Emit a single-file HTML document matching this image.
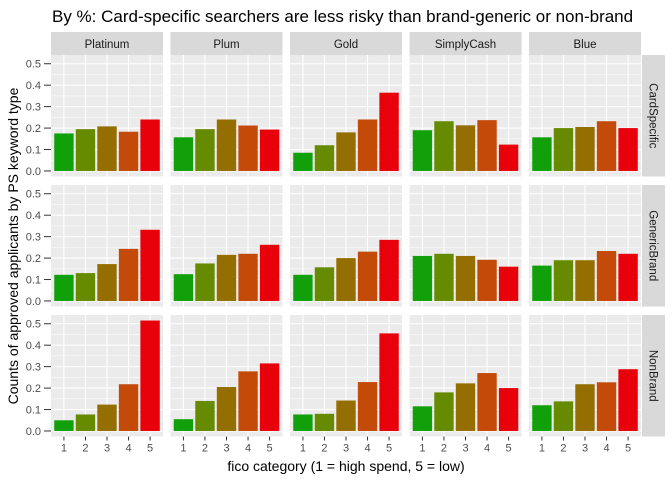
<!DOCTYPE html>
<html><head><meta charset="utf-8"><style>body{margin:0;background:#fff}svg{display:block;font-family:"Liberation Sans",sans-serif}</style></head>
<body>
<svg id="c" width="672" height="480"></svg>
<script>
const cards=["Platinum","Plum","Gold","SimplyCash","Blue"];
const types=["CardSpecific","GenericBrand","NonBrand"];
const ficoCats=["1","2","3","4","5"];
const yTicks=[0,0.1,0.2,0.3,0.4,0.5];
const cardSpecificVals=[[.175,.195,.208,.183,.24],[.157,.195,.24,.212,.193],[.085,.12,.18,.24,.365],[.19,.232,.213,.237,.123],[.157,.2,.205,.232,.2]];
const genericBrandVals=[[.122,.13,.172,.243,.332],[.125,.175,.215,.22,.262],[.122,.157,.2,.23,.285],[.21,.22,.21,.192,.16],[.165,.19,.19,.233,.22]];
const nonBrandVals=[[.05,.077,.123,.218,.515],[.055,.14,.205,.278,.315],[.077,.08,.142,.228,.455],[.115,.18,.222,.27,.2],[.12,.138,.218,.227,.288]];
const allVals=[cardSpecificVals,genericBrandVals,nonBrandVals];
const colors=["#12a00a","#668a00","#946e00","#c44a0a","#e8000a"];
const svg=document.getElementById('c');const NS="http://www.w3.org/2000/svg";
function mk(t,a,p){const e=document.createElementNS(NS,t);for(const k in a)e.setAttribute(k,a[k]);(p||svg).appendChild(e);return e;}
const PX0=51,PW=112,PSTEP=119.5,PY0=55,PH=121.5,PSTEP_Y=130;
const ymin=-0.02575,ymax=0.54075;
function yS(v,r){const top=PY0+r*PSTEP_Y;return top+PH-(v-ymin)/(ymax-ymin)*PH;}
function xC(i,c){const l=PX0+c*PSTEP;return l+(i+0.6)/5.2*PW;}
const uw=PW/5.2;
let t=mk('text',{x:52,y:22,'font-size':17,fill:'#000'});t.textContent="By %: Card-specific searchers are less risky than brand-generic or non-brand";

for(let c=0;c<5;c++){
  const l=PX0+c*PSTEP;
  const s=mk('rect',{x:l,y:32,width:PW,height:23,fill:'#d9d9d9'});
  
  const st=mk('text',{x:l+PW/2,y:48,'font-size':11.5,fill:'#1a1a1a','text-anchor':'middle'});st.textContent=cards[c];
  
}
for(let r=0;r<3;r++){
  const top=PY0+r*PSTEP_Y;
  const s=mk('rect',{x:642,y:top,width:23,height:PH,fill:'#d9d9d9'});
  
  const st=mk('text',{x:0,y:0,'font-size':11.5,fill:'#1a1a1a','text-anchor':'middle',transform:`translate(649.5,${top+PH/2}) rotate(90)`});st.textContent=types[r];
  
  for(const v of yTicks){
    const tk=mk('text',{x:41,y:yS(v,r)+4,'font-size':11,fill:'#4d4d4d','text-anchor':'end'});tk.textContent=v.toFixed(1);
    
    mk('line',{x1:44,x2:PX0,y1:yS(v,r),y2:yS(v,r),stroke:'#333','stroke-width':1});
  }
  for(let c=0;c<5;c++){
    const l=PX0+c*PSTEP;
    const p=mk('rect',{x:l,y:top,width:PW,height:PH,fill:'#ebebeb'});
    
    for(let k=0;k<yTicks.length;k++){
      const v=yTicks[k];
      mk('line',{x1:l,x2:l+PW,y1:yS(v,r),y2:yS(v,r),stroke:'#fff','stroke-width':1.1});
      if(k<yTicks.length-1)mk('line',{x1:l,x2:l+PW,y1:yS(v+0.05,r),y2:yS(v+0.05,r),stroke:'#fff','stroke-width':0.5});
    }
    for(let i=0;i<5;i++){const x=xC(i,c);mk('line',{x1:x,x2:x,y1:top,y2:top+PH,stroke:'#fff','stroke-width':1.1});}
    const vals=allVals[r][c];
    for(let i=0;i<5;i++){
      const b=mk('rect',{x:xC(i,c)-0.45*uw,y:yS(vals[i],r),width:uw*0.9,height:yS(0,r)-yS(vals[i],r),fill:colors[i]});
      
    }
  }
}
const bottom=PY0+2*PSTEP_Y+PH;
for(let c=0;c<5;c++){for(let i=0;i<5;i++){
  const x=xC(i,c);
  mk('line',{x1:x,x2:x,y1:bottom,y2:bottom+4,stroke:'#333','stroke-width':1});
  const tk=mk('text',{x:x,y:bottom+15,'font-size':11,fill:'#4d4d4d','text-anchor':'middle'});tk.textContent=ficoCats[i];
  
}}
t=mk('text',{x:346,y:471,'font-size':14,fill:'#000','text-anchor':'middle'});t.textContent="fico category (1 = high spend, 5 = low)";

t=mk('text',{x:0,y:0,'font-size':14,fill:'#000','text-anchor':'middle',transform:'translate(18,246) rotate(-90)'});t.textContent="Counts of approved applicants by PS keyword type";

</script>
</body></html>
